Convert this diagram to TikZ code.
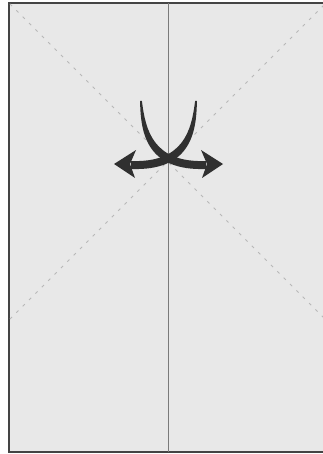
\documentclass[tikz,border=0pt]{standalone}
\begin{document}
\begin{tikzpicture}[x=1pt,y=-1pt,
  sheet/.style={fill=sheetgray, draw=framegray, line width=1.6pt},
  fold/.style={draw=foldgray, line width=1pt},
  crease/.style={draw=creasegray, line width=1pt, dash pattern=on 3pt off 6pt},
  arrowfill/.style={fill=arrowgray, draw=none}]
\definecolor{sheetgray}{HTML}{E8E8E8}
\definecolor{framegray}{HTML}{444444}
\definecolor{foldgray}{HTML}{7A7A7A}
\definecolor{creasegray}{HTML}{B8B8B8}
\definecolor{arrowgray}{HTML}{303030}
\useasboundingbox (0,0) rectangle (323,454);
\begin{scope}
\clip (-4,-4) rectangle (330,458);
\fill[white] (-4,-4) rectangle (330,458);
\draw[sheet] (9,3) rectangle (345,452);
\coordinate (d1a) at (10,4);
\coordinate (d1b) at (326,320);
\coordinate (d2a) at (10,319);
\coordinate (d2b) at (326,3);
\draw[crease] (d1a) -- (d1b);
\draw[crease] (d2a) -- (d2b);
\coordinate (ft) at (168,3);
\coordinate (fb) at (168,452);
\draw[fold] (ft) -- (fb);
\end{scope}
% right-going arrow (from top-left)
\fill[arrowfill] (140.1,101) .. controls (140.5,134) and (147,171) .. (206,169)
  -- (206,161) .. controls (153,163) and (145.5,130) .. (141.9,101) -- cycle;
\fill[arrowfill] (223,164) -- (201,150) -- (207,164) -- (202,178) -- cycle;
% left-going arrow (from top-right)
\fill[arrowfill] (196.9,101) .. controls (196.5,134) and (190,171) .. (131,169)
  -- (131,161) .. controls (184,163) and (191.5,130) .. (195.1,101) -- cycle;
\fill[arrowfill] (114,164) -- (136,150) -- (130,164) -- (135,178) -- cycle;
\end{tikzpicture}
\end{document}
